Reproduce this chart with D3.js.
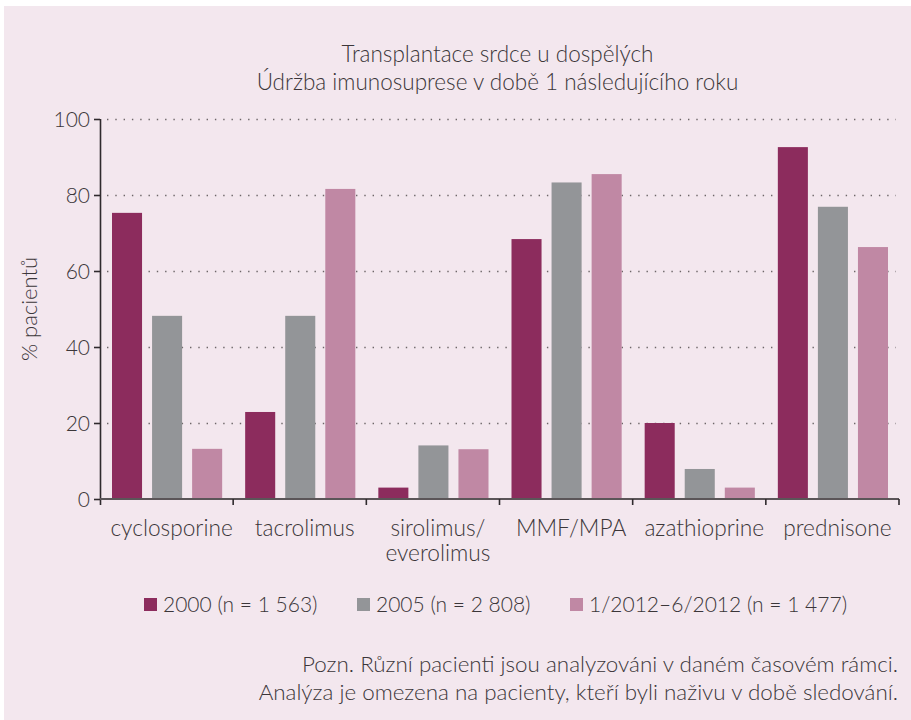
<!DOCTYPE html>
<html>
<head>
<meta charset="utf-8">
<script src="https://cdn.jsdelivr.net/npm/d3@7"></script>
<style>
  html, body { margin: 0; padding: 0; background: #ffffff; }
  svg { display: block; }
  text { font-family: Lato, "Open Sans", sans-serif; font-weight: 300; fill: #3b3639; }
</style>
</head>
<body>
<svg id="chart" width="911" height="720"></svg>
<script>
// Immunosuppression drugs, one group of bars each
const categories = [["cyclosporine"], ["tacrolimus"], ["sirolimus/", "everolimus"], ["MMF/MPA"], ["azathioprine"], ["prednisone"]];
const seriesNames = ["2000 (n = 1 563)", "2005 (n = 2 808)", "1/2012–6/2012 (n = 1 477)"];
const seriesColors = ["#8c2c5d", "#939598", "#c088a4"];
// % of patients per drug, in category order
const values2000 = [75.3, 22.9, 3.0, 68.4, 20.0, 92.6];
const values2005 = [48.2, 48.2, 14.1, 83.3, 7.9, 76.9];
const values2012 = [13.2, 81.6, 13.1, 85.5, 3.0, 66.3];
const yTicks = [0, 20, 40, 60, 80, 100];
const titleLines = ["Transplantace srdce u dospělých", "Údržba imunosuprese v době 1 následujícího roku"];
const yLabel = "% pacientů";
const noteLines = ["Pozn. Různí pacienti jsou analyzováni v daném časovém rámci.",
                   "Analýza je omezena na pacienty, kteří byli naživu v době sledování."];

const allValues = [values2000, values2005, values2012];

const svg = d3.select("#chart");

// tinted panel
svg.append("rect").attr("x", 4).attr("y", 6).attr("width", 907).attr("height", 714).attr("fill", "#f3e7ee");

const plotL = 100, plotR = 899, plotT = 119, plotB = 499;

const x = d3.scaleBand().domain(d3.range(categories.length)).range([plotL, plotR]).paddingInner(0).paddingOuter(0);
const xs = d3.scaleBand().domain(d3.range(seriesNames.length)).range([12, x.bandwidth() - 11]).paddingInner(0.25).paddingOuter(0);
const y = d3.scaleLinear().domain([0, 100]).range([plotB, plotT]);

// title
svg.append("g").selectAll("text").data(titleLines).join("text")
  .attr("x", (plotL + plotR) / 2 - 2).attr("y", (d, i) => 62 + i * 28)
  .attr("text-anchor", "middle").style("font-size", "22.5px").text(d => d);

// dotted grid
svg.append("g").selectAll("line").data(yTicks.filter(t => t > 0)).join("line")
  .attr("x1", plotL + 7).attr("x2", plotR - 3)
  .attr("y1", d => y(d) + 0.5).attr("y2", d => y(d) + 0.5)
  .attr("stroke", "#6d6668").attr("stroke-width", 1.6).attr("stroke-dasharray", "1.4 6.9");

// bars
const groups = svg.append("g").selectAll("g").data(categories).join("g")
  .attr("transform", (d, i) => `translate(${x(i)},0)`);
groups.selectAll("rect").data((d, i) => allValues.map((vals, s) => ({ s, v: vals[i] }))).join("rect")
  .attr("x", d => xs(d.s)).attr("width", xs.bandwidth())
  .attr("y", d => y(d.v)).attr("height", d => y(0) - y(d.v))
  .attr("fill", d => seriesColors[d.s]);

// y axis
const yAxis = svg.append("g").attr("transform", `translate(${plotL},0)`)
  .call(d3.axisLeft(y).tickValues(yTicks).tickSize(6).tickPadding(4).tickSizeOuter(0));
yAxis.select(".domain").attr("stroke", "#2f2a2d").attr("stroke-width", 1.6).attr("d", `M0.5,${plotT}V${plotB + 6}`);
yAxis.selectAll(".tick line").attr("stroke", "#2f2a2d").attr("stroke-width", 1.6);
yAxis.selectAll(".tick text").style("font-size", "21px").attr("fill", "#3b3639").attr("dy", "0.36em");

// x axis
const xAxis = svg.append("g").attr("transform", `translate(0,${plotB})`);
xAxis.append("line").attr("x1", plotL).attr("x2", plotR).attr("y1", 0).attr("y2", 0)
  .attr("stroke", "#5b5558").attr("stroke-width", 2);
xAxis.selectAll("line.tk").data(d3.range(1, categories.length + 1)).join("line").attr("class", "tk")
  .attr("x1", i => x(i - 1) + x.bandwidth()).attr("x2", i => x(i - 1) + x.bandwidth())
  .attr("y1", 0).attr("y2", 6).attr("stroke", "#2f2a2d").attr("stroke-width", 1.6);
const labels = xAxis.selectAll("text").data(categories).join("text")
  .attr("x", (d, i) => x(i) + x.bandwidth() / 2 + 5).attr("y", 37)
  .attr("text-anchor", "middle").style("font-size", "22.7px");
labels.selectAll("tspan").data(d => d).join("tspan")
  .attr("x", function () { return this.parentNode.getAttribute("x"); })
  .attr("dy", (d, i) => i === 0 ? 0 : 25).text(d => d);

// y label
svg.append("text").attr("transform", `translate(37,${(plotT + plotB) / 2}) rotate(-90)`)
  .attr("text-anchor", "middle").style("font-size", "22px").text(yLabel);

// legend
const legendX = [144, 357, 570];
const legend = svg.append("g").selectAll("g").data(seriesNames).join("g")
  .attr("transform", (d, i) => `translate(${legendX[i]},598)`);
legend.append("rect").attr("width", 13).attr("height", 13).attr("fill", (d, i) => seriesColors[i]);
legend.append("text").attr("x", 19).attr("y", 14).style("font-size", "21px").text(d => d);

// footnote
svg.append("g").selectAll("text").data(noteLines).join("text")
  .attr("x", 898).attr("y", (d, i) => 672 + i * 28)
  .attr("text-anchor", "end").style("font-size", "22.4px").text(d => d);
</script>
</body>
</html>
